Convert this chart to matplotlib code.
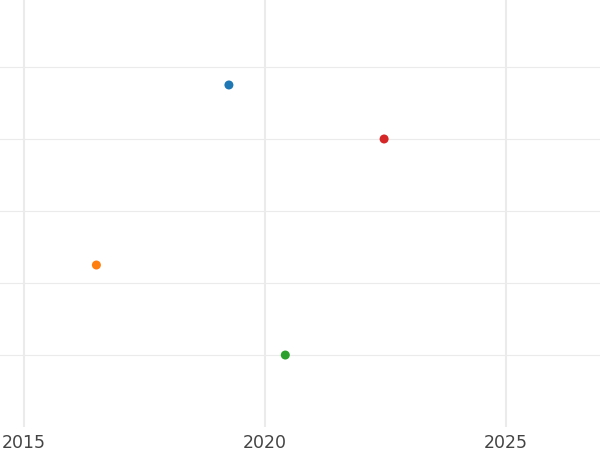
import matplotlib
matplotlib.use("Agg")
import matplotlib.pyplot as plt

# Valores
anos = [2019.25, 2016.5, 2020.42, 2022.47]
valores = [4.75, 2.25, 1.0, 4.0]
cores = ['#1f77b4', '#ff7f0e', '#2ca02c', '#d62728']
anos_ticks = [2015, 2020, 2025]
linhas_y = [1, 2, 3, 4, 5]

fig = plt.figure(figsize=(6, 4.5), dpi=100)
ax = fig.add_axes([0, 0.051, 1, 0.949])

ax.set_xlim(2014.5, 2026.95)
ax.set_ylim(0, 5.93)

for y in linhas_y:
    ax.axhline(y, color='#ebebeb', lw=0.8, zorder=0)
for x in anos_ticks:
    ax.axvline(x, color='#ebebeb', lw=1.5, zorder=0)

ax.scatter(anos, valores, c=cores, s=42, zorder=3, linewidths=0)

ax.set_xticks(anos_ticks)
ax.set_xticklabels([str(a) for a in anos_ticks])
ax.set_yticks([])
ax.tick_params(axis='x', length=0, pad=5, labelsize=12.5, labelcolor='#444444')
for s in ax.spines.values():
    s.set_visible(False)

fig.savefig('out.png', dpi=100)
